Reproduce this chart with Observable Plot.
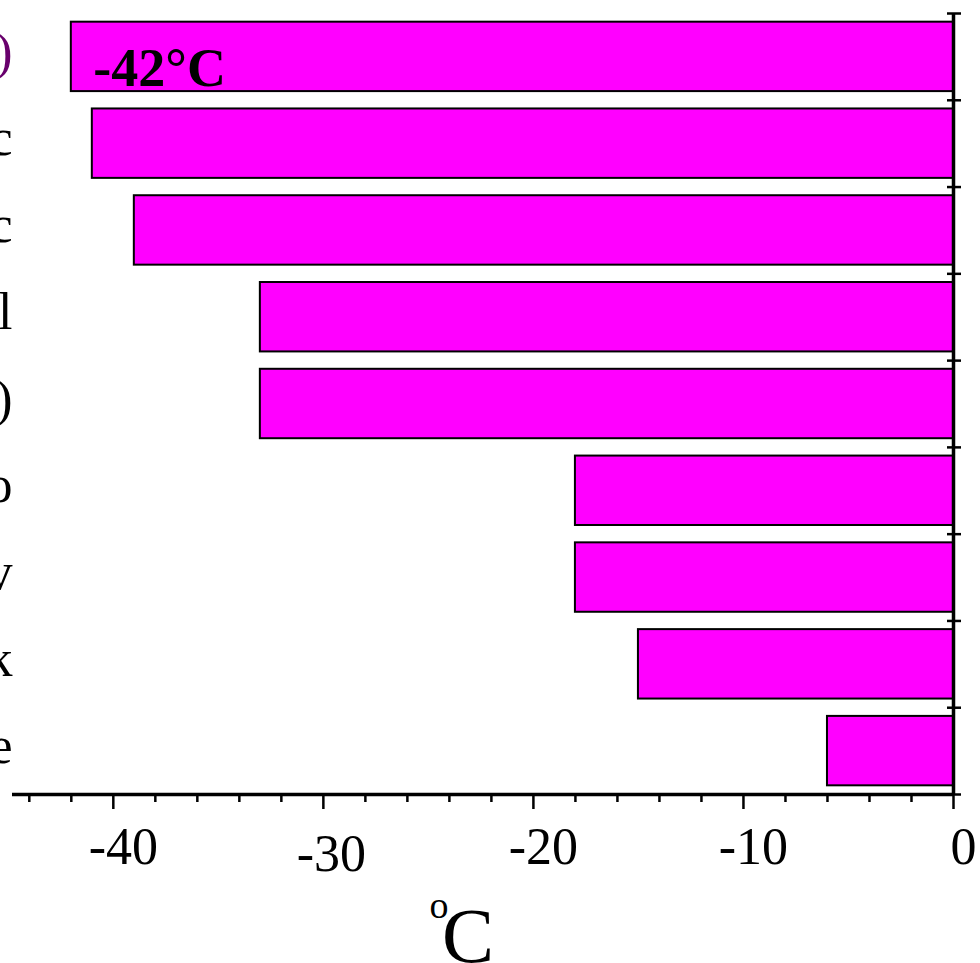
<!DOCTYPE html>
<html><head><meta charset="utf-8">
<script src="https://cdn.jsdelivr.net/npm/d3@7"></script>
<script src="https://cdn.jsdelivr.net/npm/@observablehq/plot@0.6"></script>
<style>html,body{margin:0;padding:0;background:#fff;overflow:hidden} svg{display:block}</style>
</head><body><div id="chart"></div>
<script>
// visible (truncated) category labels, top to bottom
const labels = [")", "c", "c", "l", ")", "o", "v", "k", "e"];
const labelColors = ["#68006c", "black", "black", "black", "black", "black", "black", "black", "black"];
// temperatures (°C)
const temps = [-42, -41, -39, -33, -33, -18, -18, -15, -6];
const majorTicks = [-40, -30, -20, -10, 0];
const majorTickLabels = ["-40", "-30", "-20", "-10", "0"];
const minorTicks = [-44, -42, -38, -36, -34, -32, -28, -26, -24, -22, -18, -16, -14, -12, -8, -6, -4, -2];
const bandEdges = [0, 1, 2, 3, 4, 5, 6, 7, 8, 9];
const barLabel = "-42°C";
const titleSup = "o";
const titleMain = "C";

const data = labels.map((label, i) => ({i, label, temp: temps[i], color: labelColors[i]}));
const tickData = majorTicks.map((v, k) => ({v, t: majorTickLabels[k]}));
const font = "'Liberation Serif', 'Times New Roman', serif";

const chart = Plot.plot({
  width: 980,
  height: 963,
  marginTop: 13,
  marginBottom: 169,
  marginLeft: 12,
  marginRight: 27,
  style: {fontFamily: font, background: "white", overflow: "visible"},
  x: {domain: [-44.8, 0], axis: null},
  y: {domain: [9, 0], axis: null},
  color: {type: "identity"},
  marks: [
    Plot.rectX(data, {x1: 0, x2: "temp", y1: d => d.i + 0.1, y2: d => d.i + 0.9, fill: "#ff00ff", stroke: "black", strokeWidth: 2}),
    // bottom axis
    Plot.ruleY([9], {stroke: "black", strokeWidth: 3.5}),
    Plot.axisX(minorTicks, {anchor: "bottom", tickSize: 8, strokeWidth: 2.5, tickFormat: () => "", fontSize: 1}),
    Plot.axisX(majorTicks, {anchor: "bottom", tickSize: 15, strokeWidth: 2.5, tickFormat: () => "", fontSize: 1}),
    Plot.text(tickData.filter(d => d.v !== -30), {x: "v", text: "t", frameAnchor: "bottom", lineAnchor: "bottom", dy: 69, dx: 10, fontSize: 52, fill: "black"}),
    Plot.text(tickData.filter(d => d.v === -30), {x: "v", text: "t", frameAnchor: "bottom", lineAnchor: "bottom", dy: 76, dx: 8, fontSize: 52, fill: "black"}),
    // right axis
    Plot.ruleX([0], {stroke: "black", strokeWidth: 3.5}),
    Plot.axisY(bandEdges, {anchor: "right", tickSize: 7, strokeWidth: 2.5, tickFormat: () => "", fontSize: 1}),
    Plot.axisY(bandEdges, {anchor: "right", tickSize: -7, strokeWidth: 2.5, tickFormat: () => "", fontSize: 1}),
    // category labels (truncated by the left edge)
    Plot.text(data, {y: d => d.i + 0.5, text: "label", fill: "color", frameAnchor: "left", textAnchor: "end", fontSize: 52, dy: -5}),
    // bar annotation
    Plot.text([data[0]], {x: "temp", y: d => d.i + 0.5, text: () => barLabel, textAnchor: "start", dx: 22, dy: 12, fontSize: 54, fontWeight: "bold", fill: "black"}),
    // axis title
    Plot.text([titleSup], {text: d => d, frameAnchor: "bottom", lineAnchor: "bottom", dx: -44, dy: 123, fontSize: 38, fill: "black"}),
    Plot.text([titleMain], {text: d => d, frameAnchor: "bottom", lineAnchor: "bottom", dx: -15, dy: 167, fontSize: 78, fill: "black"})
  ]
});
document.getElementById("chart").appendChild(chart);
</script>
</body></html>
